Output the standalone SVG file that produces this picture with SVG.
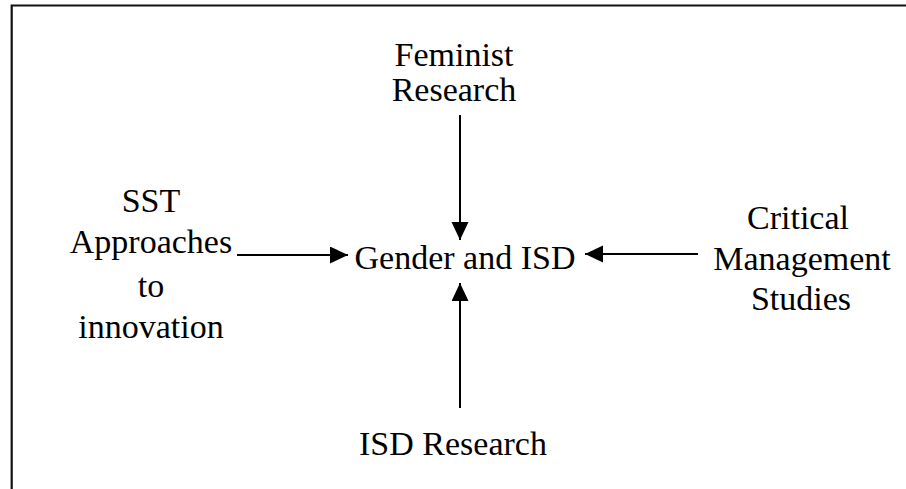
<svg xmlns="http://www.w3.org/2000/svg" width="906" height="489" viewBox="0 0 906 489">
<style>
.t{font-family:"Liberation Serif",Tinos,"Nimbus Roman","Nimbus Roman No9 L","Times New Roman",Times,"Noto Serif","DejaVu Serif",FreeSerif,serif;font-size:34px;fill:#000;text-anchor:middle}
.c{stroke:#000;stroke-width:2;fill:none}
.b{stroke:#111;stroke-width:2.2;fill:none}
</style>
<defs>
<marker id="ah" markerUnits="userSpaceOnUse" markerWidth="19" markerHeight="18" refX="18" refY="8.5" orient="auto">
<path d="M0,0 L18,8.5 L0,17 z" fill="#000"/>
</marker>
</defs>
<rect width="906" height="489" fill="#fff"/>
<g id="frame">
<path class="b" d="M11.7,489 V5.5 H906"/>
</g>
<g id="connectors">
<line class="c" x1="460" y1="115" x2="460" y2="240" marker-end="url(#ah)"/>
<line class="c" x1="460" y1="408" x2="460" y2="283" marker-end="url(#ah)"/>
<line class="c" x1="237" y1="255" x2="348" y2="255" marker-end="url(#ah)"/>
<line class="c" x1="698" y1="254" x2="585" y2="254" marker-end="url(#ah)"/>
</g>
<g id="feminist">
<text class="t" x="454" y="66">Feminist</text>
<text class="t" x="454" y="101">Research</text>
</g>
<g id="gender">
<text class="t" x="465" y="269">Gender and ISD</text>
</g>
<g id="isd">
<text class="t" x="453" y="455">ISD Research</text>
</g>
<g id="sst">
<text class="t" x="151" y="212">SST</text>
<text class="t" x="151" y="253">Approaches</text>
<text class="t" x="151" y="297">to</text>
<text class="t" x="151" y="338">innovation</text>
</g>
<g id="cms">
<text class="t" x="798" y="229">Critical</text>
<text class="t" x="802" y="270">Management</text>
<text class="t" x="801" y="310">Studies</text>
</g>
</svg>
